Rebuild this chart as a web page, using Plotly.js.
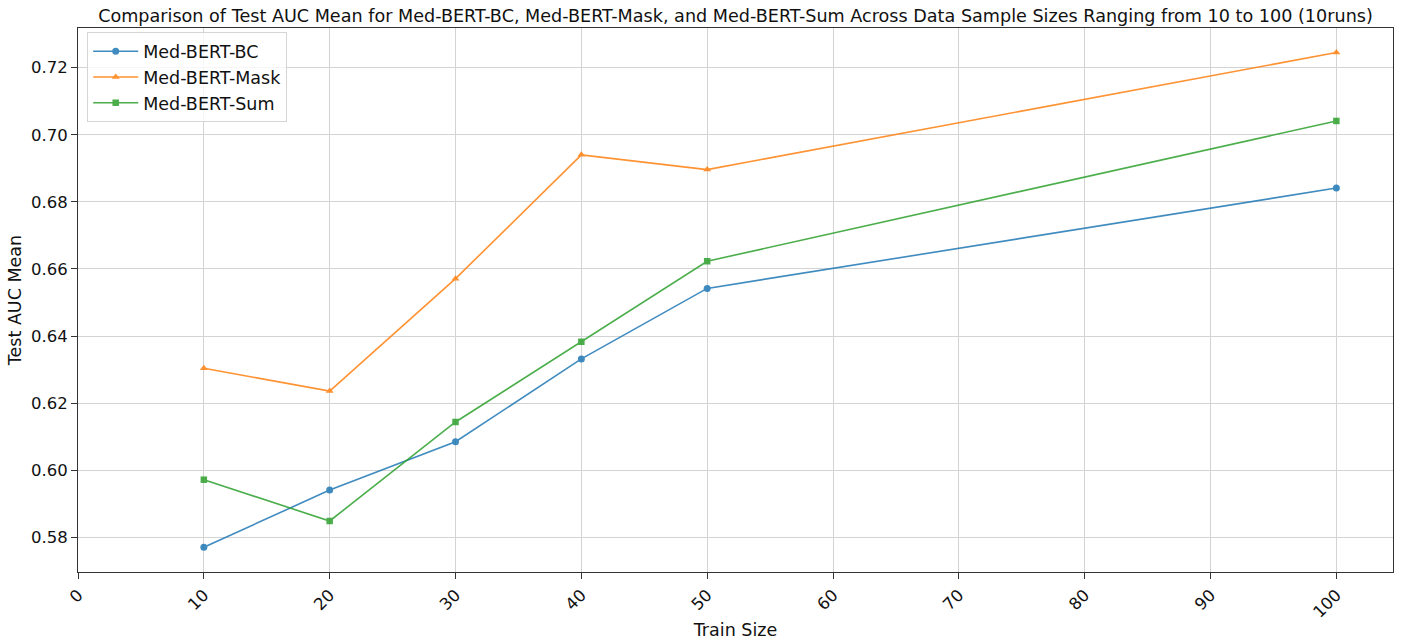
<!DOCTYPE html>
<html>
<head>
<meta charset="utf-8">
<script src="https://cdn.plot.ly/plotly-3.0.1.min.js"></script>
<style>html,body{margin:0;padding:0;background:#fff;}#chart{width:1403px;height:642px;}</style>
</head>
<body>
<div id="chart"></div>
<script>
const trainSizes = [10, 20, 30, 40, 50, 100];
const bcValues   = [0.5771, 0.5941, 0.6085, 0.6332, 0.6542, 0.6841];
const maskValues = [0.6304, 0.6236, 0.6571, 0.6940, 0.6896, 0.7245];
const sumValues  = [0.5972, 0.5849, 0.6144, 0.6383, 0.6623, 0.7041];
const seriesNames = ['Med-BERT-BC', 'Med-BERT-Mask', 'Med-BERT-Sum'];
const xTicks = [0, 10, 20, 30, 40, 50, 60, 70, 80, 90, 100];
const yTicks = [0.58, 0.60, 0.62, 0.64, 0.66, 0.68, 0.70, 0.72];

const font = 'DejaVu Sans, sans-serif';
function tr(y, name, color, symbol, size) {
  return {
    x: trainSizes, y: y, name: name, type: 'scatter', mode: 'lines+markers',
    line: {color: color, width: 1.6}, opacity: 0.85,
    marker: {symbol: symbol, size: size, color: color}
  };
}
const data = [
  tr(bcValues, seriesNames[0], '#1f77b4', 'circle', 7),
  tr(maskValues, seriesNames[1], '#ff7f0e', 'triangle-up', 7),
  tr(sumValues, seriesNames[2], '#2ca02c', 'square', 6.5)
];
const axisCommon = {
  showline: true, mirror: true, linecolor: '#333', linewidth: 1,
  ticks: 'outside', ticklen: 6, tickcolor: '#333', tickwidth: 1,
  showgrid: true, gridcolor: '#d3d3d3', gridwidth: 1, zeroline: false,
  tickfont: {family: font, size: 16.5, color: '#111'}
};
const layout = {
  width: 1403, height: 642,
  margin: {l: 78, r: 10, t: 28, b: 70},
  paper_bgcolor: '#fff', plot_bgcolor: '#fff',
  font: {family: font, color: '#111'},
  title: {
    text: 'Comparison of Test AUC Mean for Med-BERT-BC, Med-BERT-Mask, and Med-BERT-Sum Across Data Sample Sizes Ranging from 10 to 100 (10runs)',
    font: {family: font, size: 17.6, color: '#111'},
    x: 0.5, xref: 'paper', y: 1 - 16/642, yref: 'container', yanchor: 'middle'
  },
  xaxis: Object.assign({}, axisCommon, {
    range: [0, 104.5], tickmode: 'array', tickvals: xTicks, ticktext: xTicks.map(String),
    tickangle: -45,
    title: {text: 'Train Size', font: {family: font, size: 17.5, color: '#111'}, standoff: 3}
  }),
  yaxis: Object.assign({}, axisCommon, {
    range: [0.5697, 0.7318], tickmode: 'array', tickvals: yTicks, ticktext: yTicks.map(v => v.toFixed(2)),
    title: {text: 'Test AUC Mean', font: {family: font, size: 17.5, color: '#111'}, standoff: 4}
  }),
  legend: {
    x: 0.007, y: 0.992, xanchor: 'left', yanchor: 'top',
    bgcolor: 'rgba(255,255,255,0.8)', bordercolor: '#d5d5d5', borderwidth: 1,
    font: {family: font, size: 17.5, color: '#111'},
    itemwidth: 45,
    tracegroupgap: 4
  },
  showlegend: true
};
Plotly.newPlot('chart', data, layout, {displayModeBar: false, staticPlot: true});
</script>
</body>
</html>
